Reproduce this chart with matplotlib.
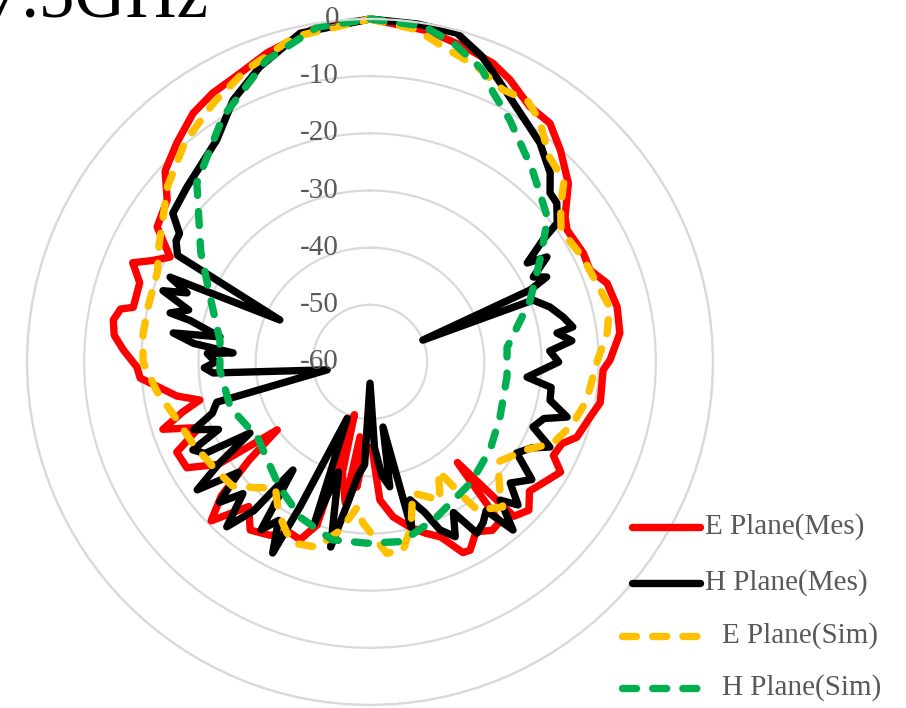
import matplotlib
matplotlib.use("Agg")
import matplotlib.pyplot as plt
import matplotlib.transforms as mtransforms
from matplotlib.lines import Line2D
import numpy as np

TITLE = "7.5GHz"
R_TICKS = [0, -10, -20, -30, -40, -50, -60]
SERIES_NAMES = ["E Plane(Mes)", "H Plane(Mes)", "E Plane(Sim)", "H Plane(Sim)"]

# angle in degrees (clockwise from top), gain in dB
e_mes_ang = [0, 10, 17, 22.4, 26.4, 32, 37, 42, 48, 53.4, 56.2, 63, 67.3, 71.6, 77.4,
             83.4, 89.5, 92, 100, 104, 110, 113, 117, 120, 124, 129, 133, 137, 139,
             141, 144, 148, 152, 154, 158, 162, 166.4, 171.5, 175.9, 178.7, 183, 186,
             187.6, 190, 194, 196.5, 198, 201.5, 205, 210, 215.5, 220, 225, 228, 231,
             233.8, 236, 240, 245, 249, 252, 255, 257.4, 260, 263, 266, 268.8, 272.8,
             276, 279.3, 282, 283, 289, 292.7, 295, 297.7, 302.4, 308.6, 313, 318.6,
             324.6, 329.7, 335.8, 341.6, 350, 360]
e_mes_db = [0, -1.2, -2.5, -3.5, -4.9, -7.3, -7.7, -10.2, -13.3, -17.5, -18.5, -18.1,
            -18.3, -16.3, -15.7, -16, -18, -19.2, -19.1, -20.3, -21.5, -23.5, -24, -21.5,
            -22.8, -24.1, -22, -23.1, -36.7, -24, -23.6, -25, -22.7, -22.9, -27, -28.5,
            -30.3, -32.6, -35.8, -45, -45, -38, -46.8, -35, -40, -50.4, -30, -26.6, -27,
            -25, -23.9, -27, -20.7, -25, -32.9, -39.9, -28, -23, -22.7, -28, -21.9, -26,
            -29.5, -25.7, -23, -19.7, -19.2, -16.8, -15, -14.5, -15.4, -17.5, -17.4,
            -15, -18, -20.5, -15.9, -14.6, -11, -8.9, -6.6, -5.5, -4.6, -3, -1, 0]

h_mes_ang = [0, 8, 14.8, 20, 25, 33.3, 37.8, 43.6, 46.8, 49.6, 53.4, 54.8, 57.8, 59.3,
             62.5, 64.3, 65.8, 67.5, 69.2, 73, 76.9, 80.2, 81.2, 84, 86.5, 90, 95.5, 98,
             102, 105.6, 108, 111.7, 115.3, 118, 121.8, 126, 130.8, 134, 136.7, 139.6,
             142, 144.9, 148, 151, 154, 157.4, 160, 163.8, 166, 168.7, 171, 174, 177,
             180, 183, 186, 189, 192, 196, 199, 202, 205.8, 207, 210, 213, 215.5, 218,
             221, 224, 227, 230, 233.5, 236, 239.4, 241, 243.6, 246, 249, 252, 255.3,
             259.6, 266, 268, 270, 273, 273.8, 276, 278.4, 279.5, 283, 283.8, 286, 289,
             290.7, 293, 295, 299, 302, 304, 307, 313.7, 318.9, 325.4, 332.4, 339.5,
             348, 360]
h_mes_db = [0, -0.3, -0.5, -3, -6.1, -10, -11.5, -14.3, -16.8, -17.1, -19.2, -23, -27.5,
            -24, -27.8, -25.7, -29.3, -50, -29.5, -27.1, -25.3, -24, -26.9, -24.5, -28.5,
            -27, -32.4, -28, -27.8, -24.2, -28, -29.3, -25.2, -28, -29.8, -25, -27.6, -24,
            -26.8, -21.4, -27, -25.6, -24.7, -29.9, -26, -28.2, -32, -34.9, -30, -48.4,
            -37.9, -40, -45, -56.3, -42, -40, -35, -26.9, -40, -30, -49.4, -31.8, -22.5,
            -28, -25, -36.8, -27, -21.8, -28, -24, -30, -22.4, -28, -35.6, -27, -25.4,
            -31, -27, -31, -32.3, -52.4, -32.5, -31, -33, -31.5, -36, -29, -25.2, -33.4,
            -27.7, -24, -27, -21.7, -25.8, -22, -42.6, -21.5, -20, -19.8, -16.8, -15.7,
            -14.7, -12.8, -8.3, -4.9, -1.2, 0]

e_sim_ang = [0, 8, 12, 20, 26, 31, 35, 41, 47, 51, 55, 58, 64, 71, 77, 83, 90, 100, 107,
             114, 119, 128, 134, 137.5, 144, 145, 148, 153, 162, 166, 170, 175, 178,
             182.5, 185, 190, 196, 203, 206, 211, 217, 222, 228, 236, 245, 255, 262, 270,
             277, 284, 293, 299, 311, 320, 329, 337, 347, 360]
e_sim_db = [0, -1.3, -3, -5.1, -7, -6.6, -8.3, -12.3, -13.6, -17.1, -19.2, -19.2, -18.5,
            -18, -17, -18.2, -20.3, -21.5, -22.9, -25, -28.5, -31.6, -28.5, -25.6, -28,
            -30.5, -37.5, -32.9, -35.9, -30.3, -26.6, -26.4, -28.9, -31.8, -34.5, -30.1,
            -26.3, -25.6, -26.8, -29, -32.5, -30.4, -27.6, -27, -25.9, -24.4, -22.4,
            -20.3, -20, -20, -19.6, -17.8, -13.1, -9.7, -7, -4.5, -1.6, 0]

h_sim_ang = [0, 9, 14.6, 21, 24.6, 30, 40, 51, 59, 69, 84, 96, 113, 126, 140, 158, 170,
             181, 192, 204, 216, 236, 252, 267, 278, 293, 303, 316, 329, 341, 351, 360]
h_sim_db = [0, -0.5, -2.3, -5.2, -8.2, -11.1, -15.9, -20, -25.3, -30, -35.9, -35.9, -35.3,
            -34, -32.5, -30.2, -28.1, -28.3, -28.2, -30.2, -33, -36.3, -34.3, -33.7,
            -33.5, -29.5, -24.7, -16.4, -10, -4.2, -0.7, 0]

W, H = 906, 708
fig = plt.figure(figsize=(W / 100, H / 100), dpi=100)
cx, cy, rad = 370, 362, 343
ax = fig.add_axes([(cx - rad) / W, (H - cy - rad) / H, 2 * rad / W, 2 * rad / H],
                  projection="polar")
ax.set_theta_zero_location("N")
ax.set_theta_direction(-1)
ax.set_ylim(-60, 0)
ax.set_xticks([])
ax.set_yticks(R_TICKS)
ax.set_yticklabels([])
ax.yaxis.grid(True, color="#D9D9D9", lw=1.6)
ax.spines["polar"].set_color("#D9D9D9")
ax.spines["polar"].set_linewidth(1.6)

lw = 5.3
dash = (1.9, 2.2)
styles = [
    dict(color="#FF0000", lw=lw, solid_capstyle="round", solid_joinstyle="round"),
    dict(color="#000000", lw=lw, solid_capstyle="round", solid_joinstyle="round"),
    dict(color="#FFC000", lw=lw, dashes=dash, dash_capstyle="round"),
    dict(color="#00B050", lw=lw, dashes=dash, dash_capstyle="round"),
]
data = [(e_mes_ang, e_mes_db), (h_mes_ang, h_mes_db),
        (e_sim_ang, e_sim_db), (h_sim_ang, h_sim_db)]
for (ang, db), st in zip(data, styles):
    ax.plot(np.deg2rad(ang), db, clip_on=False, **st)

# radial tick labels, right-aligned just left of the vertical axis
off = mtransforms.offset_copy(ax.transData, fig=fig, x=-31, y=0, units="dots")
for v in R_TICKS:
    ax.text(0, v, str(v), transform=off, ha="right", va="center",
            family="Liberation Serif", fontsize=21, color="#595959")

fig.text(208 / W, 1 - 17 / H, TITLE, ha="right", va="baseline",
         family="Liberation Serif", fontsize=51, color="black")

# legend
rows = [527, 583, 636, 688]
for name, st, y in zip(SERIES_NAMES, styles, rows):
    sim = "Sim" in name
    x0, x1, xt = (622, 705, 722) if sim else (632, 700, 705)
    fig.add_artist(Line2D([x0 / W, x1 / W], [1 - y / H, 1 - y / H],
                          transform=fig.transFigure, **st))
    fig.text(xt / W, 1 - y / H, name, ha="left", va="center",
             family="Liberation Serif", fontsize=21, color="#595959")

fig.savefig("out.png", dpi=100)
